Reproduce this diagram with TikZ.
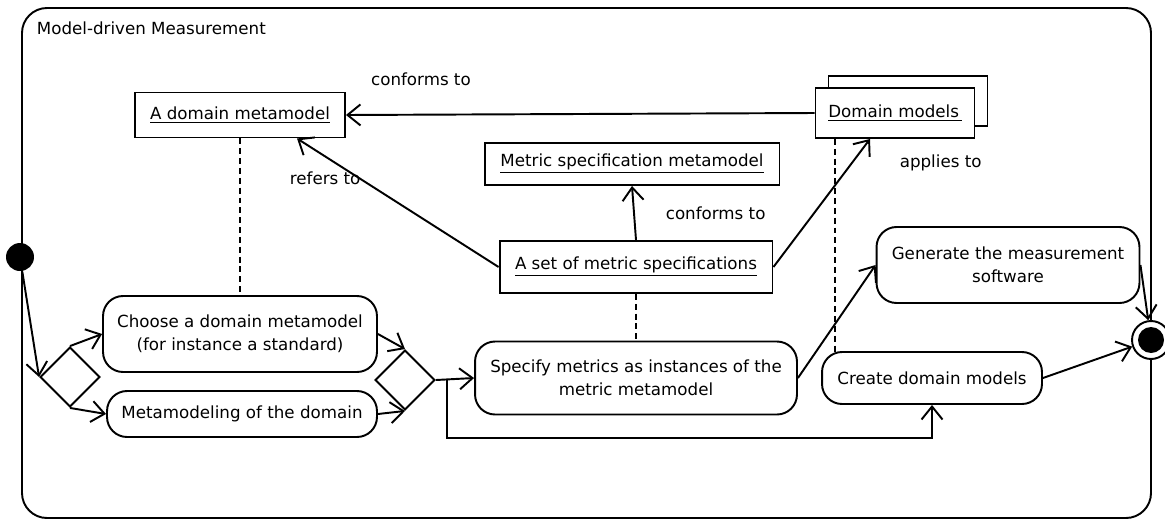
\documentclass[tikz,border=0pt]{standalone}
\usepackage{fontspec}
\setmainfont{DejaVu Sans}
\usetikzlibrary{
        arrows.meta,
        positioning,
        shapes.geometric
    }
\tikzset{>={Straight Barb[length=2.6mm,width=4.2mm]}}
\tikzset{activity/.style={draw,rounded corners=0.4cm,align=center,inner sep=2pt}}
\tikzset{artifact/.style={draw,fill=white,align=center,inner sep=2pt}}
\tikzset{decision/.style={draw,diamond,minimum width=1.2cm,minimum height=1.2cm,inner sep=0pt}}
\tikzset{trace/.style={dash pattern=on 3.4pt off 2.2pt}}

\begin{document}
\begin{tikzpicture}[x=0.02cm,y=-0.02cm,line width=1.1pt,font=\fontsize{9.5}{13}\selectfont]
                    \useasboundingbox (0,0) rectangle (1165,521);
                    \draw[rounded corners=0.5cm] (22,8) rectangle (1151,518);
                    \node[anchor=west,inner sep=0pt] (title) at (36,28) {Model-driven Measurement};

                        \node[circle,fill,minimum size=0.56cm,inner sep=0pt] (init) at (20,257) {};
                        \node[decision] (d1) at (70,377) {};
                        \node[activity,minimum width=5.48cm,minimum height=1.52cm] (choose) at (240,334)
                            {Choose a domain metamodel\\(for instance a standard)};
                        \node[activity,minimum width=5.4cm,minimum height=0.92cm] (meta) at (242,414)
                            {Metamodeling of the domain};
                        \node[decision] (d2) at (405,380) {};
                        \node[activity,minimum width=6.44cm,minimum height=1.46cm] (spec) at (636,378)
                            {Specify metrics as instances of the\\metric metamodel};
                        \node[artifact,minimum width=5.46cm,minimum height=1.04cm] (set) at (636,267)
                            {\underline{A set of metric specifications}};
                        \node[artifact,minimum width=5.9cm,minimum height=0.84cm] (metaspec) at (632,164)
                            {\underline{Metric specification metamodel}};
                        \node[artifact,minimum width=4.2cm,minimum height=0.9cm] (dommeta) at (240,115)
                            {\underline{A domain metamodel}};
                        \node[artifact,minimum width=3.18cm,minimum height=1.0cm] (dmback) at (908,101) {};
                        \node[artifact,minimum width=3.18cm,minimum height=1.0cm] (dmodels) at (895,113)
                            {\underline{Domain models\,}};
                        \node[activity,minimum width=5.26cm,minimum height=1.52cm] (gen) at (1008,265)
                            {Generate the measurement\\software};
                        \node[activity,minimum width=4.4cm,minimum height=1.04cm] (create) at (932,378)
                            {Create domain models};
                        \node[circle,draw,fill=white,minimum size=0.76cm,inner sep=0pt] (final) at (1151,340) {};
                        \fill (final) circle (0.26cm);

                        \coordinate (branch) at (447,380);
                        \coordinate (bend) at (447,438);
                        \coordinate (dmfoot) at (835,352);

                    \path[->]
                            (init)  edge  (d1.west)
                            (d1.north)  edge  (choose.west)
                            (d1.south)  edge  (meta.west)
                            (choose.east)  edge  (d2.north)
                            (meta.east)  edge  (d2.south)
                            (d2.east)  edge  (spec.west)
                            (spec.east)  edge  (gen.west)
                            (gen.east)  edge  (final)
                            (create.east)  edge  (final)
                            (dmodels.west)  edge  node[pos=0.84,yshift=0.7cm] {conforms to} (dommeta.east)
                            (set.west)  edge  node[pos=0.86,yshift=-0.44cm] {refers to} ([xshift=1.14cm]dommeta.south)
                            (set.north)  edge  node[midway,right=0.5cm] {conforms to} (metaspec.south)
                            (set.east)  edge  node[pos=0.81,xshift=1.78cm] {applies to} ([xshift=-0.5cm]dmodels.south)
                            ;
                    \draw[->] (branch) -- (bend) -| (create.south);
                    \draw[trace] (dommeta.south) -- (choose.north);
                    \draw[trace] (set.south) -- (spec.north);
                    \draw[trace] (dmfoot |- dmodels.south) -- (dmfoot);
            \end{tikzpicture}
\end{document}
